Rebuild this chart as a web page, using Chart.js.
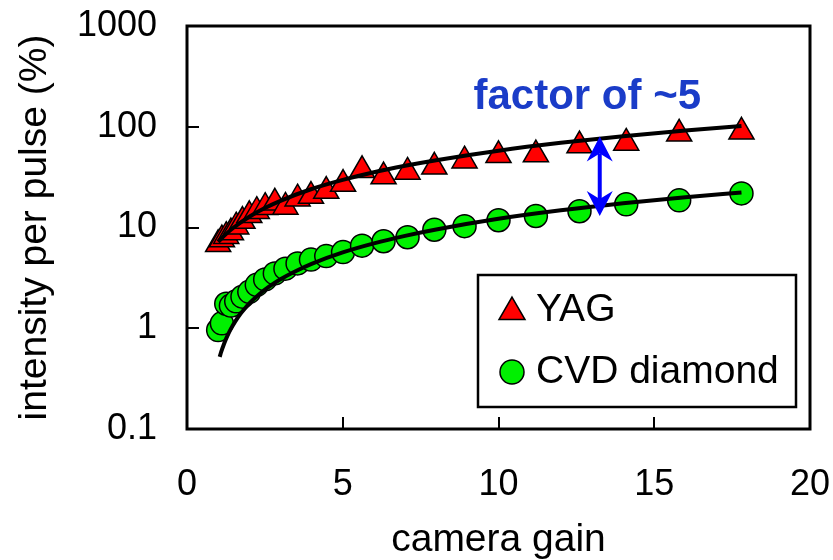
<!DOCTYPE html>
<html>
<head>
<meta charset="utf-8">
<script src="https://cdn.jsdelivr.net/npm/chart.js@4/dist/chart.umd.min.js"></script>
<style>
  html, body { margin: 0; padding: 0; background: #fff; }
  #wrap { width: 833px; height: 560px; }
</style>
</head>
<body>
<div id="wrap"><canvas id="c" width="833" height="560"></canvas></div>
<script>
// Measured camera gain settings and relative intensity per pulse (%)
const gain = [1.00, 1.12, 1.26, 1.41, 1.58, 1.78, 2.00, 2.24, 2.51, 2.82, 3.16, 3.55, 3.98,
              4.47, 5.01, 5.62, 6.31, 7.08, 7.94, 8.91, 10.0, 11.2, 12.6, 14.1, 15.8, 17.8];
const yagIntensity = [6.8, 7.6, 8.2, 8.9, 10.2, 11.6, 13.2, 14.5, 15.9, 17.6, 16.0, 19.3, 20.5,
                      23.0, 27.0, 37.0, 32.0, 35.6, 40.0, 46.0, 52.0, 53.0, 65.0, 69.0, 85.0, 89.0];
const cvdIntensity = [0.96, 1.12, 1.75, 1.68, 1.85, 2.06, 2.30, 2.70, 3.05, 3.50, 3.90, 4.40, 4.80,
                      5.20, 5.70, 6.60, 7.30, 8.00, 9.50, 10.3, 11.8, 13.0, 14.5, 17.0, 18.6, 21.8];

// Fitted trend lines
const yagFitGain = [1.0, 1.25, 1.5, 2.0, 2.5, 3.0, 4.0, 5.0, 6.0, 7.0, 8.0, 10.0, 12.0, 14.0, 16.0, 17.8];
const yagFit     = [7.2, 8.6, 10.0, 12.8, 15.6, 18.4, 24.1, 29.7, 35.4, 41.0, 46.6, 57.9, 69.2, 80.5, 91.8, 102];
const cvdFitGain = [1.05, 1.1, 1.2, 1.3, 1.4, 1.55, 1.7, 1.85, 2.0, 2.3, 2.6, 3.0, 3.5, 4.0,
                    5.0, 6.0, 7.0, 8.0, 10.0, 12.0, 14.0, 16.0, 17.8];
const cvdFit     = [0.52, 0.585, 0.715, 0.845, 0.975, 1.17, 1.37, 1.56, 1.76, 2.15, 2.54, 3.06, 3.70, 4.36,
                    5.66, 6.96, 8.26, 9.56, 12.2, 14.8, 17.4, 20.0, 22.3];

// Axis ticks
const xTicks = [0, 5, 10, 15, 20];
const yTicks = [0.1, 1, 10, 100, 1000];

// Ratio annotation
const arrowGain = 13.25, arrowTop = 80, arrowBottom = 13;
const noteText = 'factor of ~5', noteGain = 12.85, noteValue = 150;

const FONT = "'Liberation Sans', Arial, Helvetica, sans-serif";
const RED = '#ff0000', GREEN = '#00f000';

const pts = (xs, ys) => xs.map((x, i) => ({ x: x, y: ys[i] }));

// Scales keep a fixed footprint; end labels may spill past the plot frame
const noScalePadding = s => { s.paddingTop = 0; s.paddingBottom = 0; s.paddingLeft = 0; s.paddingRight = 0; };

// Frame, inward tick marks, legend box and the ratio arrow
const decorations = {
  id: 'decorations',
  afterDraw(chart) {
    const { ctx, chartArea: a, scales: { x, y } } = chart;
    ctx.save();
    ctx.strokeStyle = '#000';
    // inward tick marks
    ctx.lineWidth = 2;
    const tl = 12;
    ctx.beginPath();
    xTicks.slice(1, -1).forEach(v => {
      const px = Math.round(x.getPixelForValue(v));
      ctx.moveTo(px, a.bottom); ctx.lineTo(px, a.bottom - tl);
    });
    yTicks.slice(1, -1).forEach(v => {
      const py = Math.round(y.getPixelForValue(v));
      ctx.moveTo(a.left, py); ctx.lineTo(a.left + tl, py);
    });
    ctx.stroke();
    // plot frame
    ctx.lineWidth = 3;
    ctx.strokeRect(a.left, a.top, a.right - a.left, a.bottom - a.top);

    // double-headed arrow
    const ax = x.getPixelForValue(arrowGain);
    const y1 = y.getPixelForValue(arrowTop);
    const y2 = y.getPixelForValue(arrowBottom);
    const hl = 25, hw = 13, notch = 8;
    ctx.fillStyle = '#0000ff';
    ctx.strokeStyle = '#0000ff';
    ctx.lineWidth = 4;
    ctx.beginPath();
    ctx.moveTo(ax, y1 + hl - notch); ctx.lineTo(ax, y2 - hl + notch);
    ctx.stroke();
    ctx.beginPath();
    ctx.moveTo(ax, y1); ctx.lineTo(ax + hw, y1 + hl); ctx.lineTo(ax, y1 + hl - notch); ctx.lineTo(ax - hw, y1 + hl);
    ctx.closePath(); ctx.fill();
    ctx.beginPath();
    ctx.moveTo(ax, y2); ctx.lineTo(ax + hw, y2 - hl); ctx.lineTo(ax, y2 - hl + notch); ctx.lineTo(ax - hw, y2 - hl);
    ctx.closePath(); ctx.fill();

    // annotation text
    ctx.fillStyle = '#1a3cc8';
    ctx.font = 'bold 42px ' + FONT;
    ctx.textAlign = 'center';
    ctx.textBaseline = 'alphabetic';
    ctx.fillText(noteText, x.getPixelForValue(noteGain), y.getPixelForValue(noteValue));

    // legend
    const lx = 478, ly = 275, lw = 318, lh = 132;
    ctx.fillStyle = '#fff';
    ctx.fillRect(lx, ly, lw, lh);
    ctx.strokeStyle = '#000';
    ctx.lineWidth = 2.5;
    ctx.strokeRect(lx, ly, lw, lh);
    const items = chart.data.datasets.filter(d => d.legendItem);
    items.forEach((d, i) => {
      const cy = ly + 35 + i * 62;
      ctx.fillStyle = d.backgroundColor;
      ctx.strokeStyle = d.borderColor;
      ctx.lineWidth = d.borderWidth;
      Chart.helpers.drawPoint(ctx, {
        pointStyle: d.pointStyle, radius: d.pointRadius + 0.5, borderWidth: d.borderWidth, rotation: 0
      }, 512, cy + (d.pointStyle === 'triangle' ? 2 : 0));
      ctx.fillStyle = '#000';
      ctx.font = '39px ' + FONT;
      ctx.textAlign = 'left';
      ctx.textBaseline = 'middle';
      ctx.fillText(d.label, 536, cy);
    });
    ctx.restore();
  }
};

new Chart(document.getElementById('c'), {
  type: 'scatter',
  data: {
    datasets: [
      { type: 'line', label: 'YAG fit', data: pts(yagFitGain, yagFit), borderColor: '#000', borderWidth: 4,
        pointRadius: 0, cubicInterpolationMode: 'monotone', fill: false, order: 0 },
      { type: 'line', label: 'CVD fit', data: pts(cvdFitGain, cvdFit), borderColor: '#000', borderWidth: 4,
        pointRadius: 0, cubicInterpolationMode: 'monotone', fill: false, order: 0 },
      { label: 'YAG', legendItem: true, data: pts(gain, yagIntensity), pointStyle: 'triangle', pointRadius: 14.5,
        backgroundColor: RED, borderColor: '#000', borderWidth: 1.5, order: 1 },
      { label: 'CVD diamond', legendItem: true, data: pts(gain, cvdIntensity), pointStyle: 'circle', pointRadius: 11.5,
        backgroundColor: GREEN, borderColor: '#000', borderWidth: 1.5, order: 1 }
    ]
  },
  options: {
    responsive: false,
    animation: false,
    devicePixelRatio: 1,
    layout: { padding: { top: 26, right: 23, left: 0, bottom: 0 } },
    plugins: { legend: { display: false }, tooltip: { enabled: false } },
    scales: {
      x: {
        type: 'linear', min: 0, max: 20,
        afterBuildTicks: s => { s.ticks = xTicks.map(v => ({ value: v })); },
        afterFit: s => { s.height = 131; noScalePadding(s); },
        grid: { display: false, drawTicks: false },
        border: { display: false },
        ticks: { color: '#000', font: { family: FONT, size: 36 }, padding: 34, maxRotation: 0 },
        title: { display: true, text: 'camera gain', color: '#000',
                 font: { family: FONT, size: 39, lineHeight: 1 }, padding: { top: 0, bottom: 0 } }
      },
      y: {
        type: 'logarithmic', min: 0.1, max: 1000,
        afterBuildTicks: s => { s.ticks = yTicks.map(v => ({ value: v })); },
        afterFit: s => { s.width = 187; noScalePadding(s); },
        grid: { display: false, drawTicks: false },
        border: { display: false },
        ticks: { color: '#000', font: { family: FONT, size: 36 }, padding: 30,
                 callback: v => String(v) },
        title: { display: true, text: 'intensity per pulse (%)', color: '#000',
                 font: { family: FONT, size: 39, lineHeight: 1 }, padding: { top: 16, bottom: 0 } }
      }
    }
  },
  plugins: [decorations]
});
</script>
</body>
</html>
